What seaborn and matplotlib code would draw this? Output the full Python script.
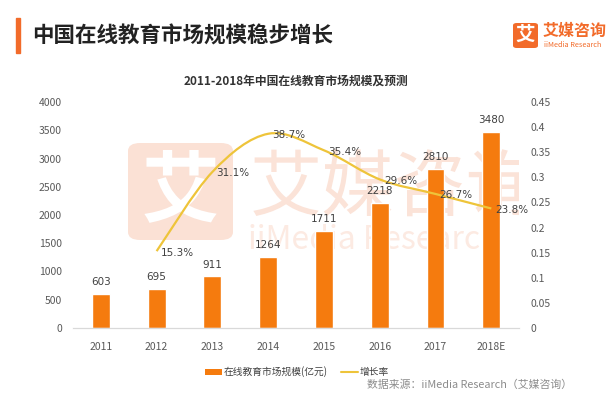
import numpy as np
import matplotlib
matplotlib.use("Agg")
import matplotlib.pyplot as plt
import seaborn as sns
from matplotlib.path import Path
from matplotlib.patches import PathPatch, Rectangle, FancyBboxPatch, Patch
from matplotlib.lines import Line2D

years = ['2011', '2012', '2013', '2014', '2015', '2016', '2017', '2018E']
market_size = [603, 695, 911, 1264, 1711, 2218, 2810, 3480]
growth_years = ['2012', '2013', '2014', '2015', '2016', '2017', '2018E']
growth_rate = [0.153, 0.311, 0.387, 0.354, 0.296, 0.267, 0.238]

left_ticks = [0, 500, 1000, 1500, 2000, 2500, 3000, 3500, 4000]
right_ticks = [0, 0.05, 0.1, 0.15, 0.2, 0.25, 0.3, 0.35, 0.4, 0.45]

BAR_COLOR = '#F57B0E'
LINE_COLOR = '#EEC43A'
BRAND = '#F26B2A'
TXT = '#404040'

sns.set_style('white')
plt.rcParams['font.family'] = ['Noto Sans CJK SC', 'DejaVu Sans']

fig = plt.figure(figsize=(6.13, 3.96), dpi=100)
ax = fig.add_axes([0.119, 0.172, 0.728, 0.570])
ax.patch.set_visible(False)

# faint watermark behind the bars (lives in the bar axes, so the line axes stays on top)
ax.add_patch(FancyBboxPatch((128 / 613, 1 - 240 / 396), 105 / 613, 97 / 396,
                            boxstyle='round,pad=0,rounding_size=0.02', transform=fig.transFigure,
                            facecolor='#FBE1D5', edgecolor='none', zorder=0, clip_on=False))
ax.text(180 / 613, 1 - 192 / 396, '艾', transform=fig.transFigure, fontsize=56, color='white',
        ha='center', va='center', weight='bold', zorder=0.5, clip_on=False)
ax.text(250 / 613, 1 - 190 / 396, '艾媒咨询', transform=fig.transFigure, fontsize=52,
        color='#FBE3D8', ha='left', va='center', zorder=0, clip_on=True)
ax.text(248 / 613, 1 - 240 / 396, 'iiMedia Research', transform=fig.transFigure, fontsize=23,
        color='#FCEAE2', ha='left', va='center', zorder=0, clip_on=True)

sns.barplot(x=years, y=market_size, color=BAR_COLOR, width=0.32, saturation=1, ax=ax, zorder=2)
ax.set_ylim(0, 4000)
ax.set_yticks(left_ticks)
ax.set_xlabel('')
ax.set_ylabel('')
for i, v in enumerate(market_size):
    ax.annotate(str(v), (i, v), xytext=(0, 5), textcoords='offset points',
                ha='center', va='bottom', fontsize=7.5, color=TXT, family='DejaVu Sans')

ax2 = ax.twinx()
ax2.patch.set_visible(False)
ax2.set_ylim(0, 0.45)
ax2.set_yticks(right_ticks)
ax2.set_yticklabels(['{:g}'.format(t) for t in right_ticks])

# smooth growth line (Catmull-Rom style Bezier through the data points)
gx = np.array([years.index(y) for y in growth_years], dtype=float)
gy = np.array(growth_rate)
pts = np.column_stack([gx, gy])
verts = [pts[0]]
codes = [Path.MOVETO]
for k in range(len(pts) - 1):
    p0 = pts[k - 1] if k > 0 else pts[k]
    p1, p2 = pts[k], pts[k + 1]
    p3 = pts[k + 2] if k + 2 < len(pts) else pts[k + 1]
    verts += [p1 + (p2 - p0) / 6, p2 - (p3 - p1) / 6, p2]
    codes += [Path.CURVE4] * 3
ax2.add_patch(PathPatch(Path(verts, codes), facecolor='none', edgecolor=LINE_COLOR, lw=1.6, zorder=3))
for x, v in zip(gx, gy):
    ax2.annotate(f'{v * 100:.1f}%', (x, v), xytext=(3, -1), textcoords='offset points',
                 ha='left', va='center', fontsize=7.5, color=TXT, family='DejaVu Sans')

for a in (ax, ax2):
    for s in ('left', 'right', 'top'):
        a.spines[s].set_visible(False)
    a.spines['bottom'].set_color('#D9D9D9')
    a.tick_params(length=0, labelsize=7.5, labelcolor='#595959')
ax.tick_params(axis='y', pad=8)
ax2.tick_params(axis='y', pad=8)
ax.tick_params(axis='x', pad=10)
ax.set_xlim(-0.5, len(years) - 0.5)

# titles
fig.patches.append(Rectangle((16 / 613, 1 - 53 / 396), 4 / 613, 35 / 396,
                             transform=fig.transFigure, color=BRAND))
fig.text(32 / 613, 1 - 36 / 396, '中国在线教育市场规模稳步增长', fontsize=15.5,
         weight='bold', color='#222222', va='center', ha='left')
fig.text(296 / 613, 1 - 81 / 396, '2011-2018年中国在线教育市场规模及预测', fontsize=8.5,
         weight='bold', color='#333333', va='center', ha='center')

# logo
fig.patches.append(FancyBboxPatch((513 / 613, 1 - 48 / 396), 25 / 613, 25 / 396,
                                  boxstyle='round,pad=0,rounding_size=0.006',
                                  transform=fig.transFigure, facecolor=BRAND, edgecolor='none'))
fig.text(525.5 / 613, 1 - 35.5 / 396, '艾', fontsize=14, weight='bold', color='white',
         ha='center', va='center')
fig.text(543 / 613, 1 - 31 / 396, '艾媒咨询', fontsize=11.5, weight='bold', color=BRAND,
         ha='left', va='center')
fig.text(544 / 613, 1 - 45 / 396, 'iiMedia Research', fontsize=5.3, color=BRAND,
         ha='left', va='center')

# legend and source
handles = [Patch(facecolor=BAR_COLOR, edgecolor='none'),
           Line2D([0], [0], color=LINE_COLOR, lw=1.5)]
fig.legend(handles, ['在线教育市场规模(亿元)', '增长率'], loc='center',
           bbox_to_anchor=(297 / 613, 1 - 372 / 396), ncol=2, frameon=False,
           fontsize=7, handlelength=1.7, handleheight=0.6, columnspacing=1.4,
           handletextpad=0.2, labelcolor='#404040')
fig.text(572 / 613, 1 - 385 / 396, '数据来源：iiMedia Research（艾媒咨询）', fontsize=7.8,
         color='#8C8C8C', ha='right', va='center')

fig.savefig('out.png', dpi=100)
